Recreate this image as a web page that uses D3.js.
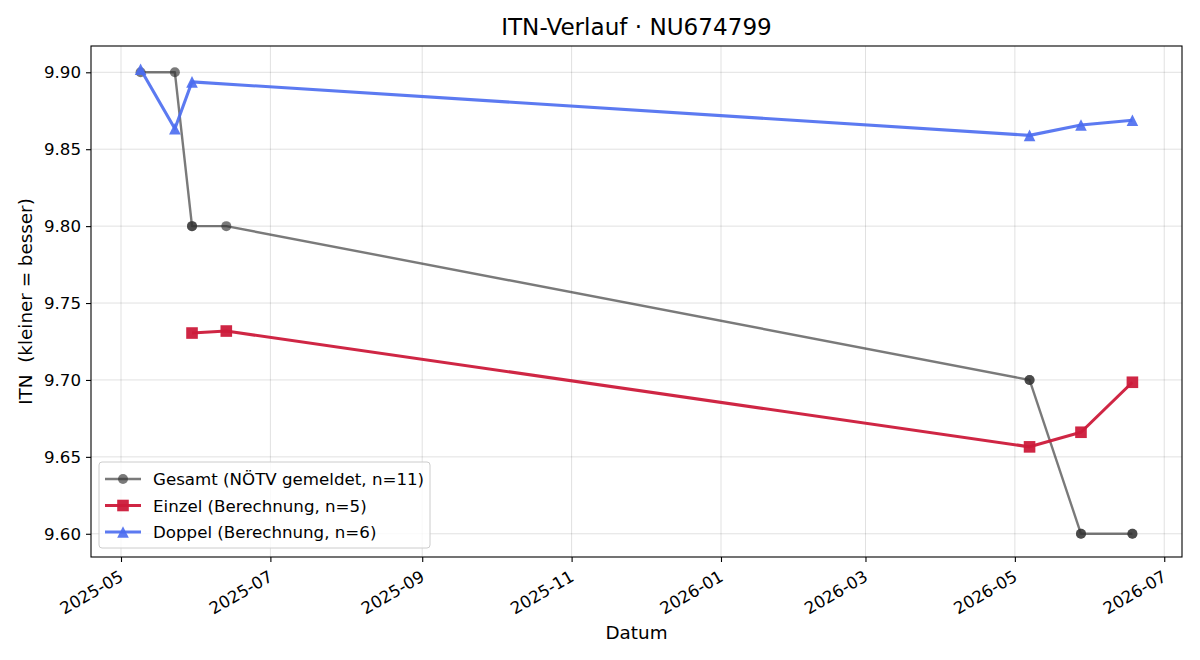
<html>
<head>
<meta charset="utf-8">
<title>ITN-Verlauf</title>
<script src="https://cdn.jsdelivr.net/npm/d3@7"></script>
<style>
  body { margin: 0; background: #fff; }
  text { font-family: "DejaVu Sans", sans-serif; fill: #000; }
</style>
</head>
<body>
<script>

// data
var TITLE = "ITN-Verlauf · NU674799";
var gesamt_dates  = ["2025-05-09", "2025-05-23", "2025-05-30", "2025-05-30", "2025-06-13",
                     "2026-05-07", "2026-05-07", "2026-05-28", "2026-05-28", "2026-06-18", "2026-06-18"];
var gesamt_values = [9.90, 9.90, 9.80, 9.80, 9.80, 9.70, 9.70, 9.60, 9.60, 9.60, 9.60];
var einzel_dates  = ["2025-05-30", "2025-06-13", "2026-05-07", "2026-05-28", "2026-06-18"];
var einzel_values = [9.7305, 9.7318, 9.6565, 9.6660, 9.6985];
var doppel_dates  = ["2025-05-09", "2025-05-23", "2025-05-30", "2026-05-07", "2026-05-28", "2026-06-18"];
var doppel_values = [9.9020, 9.8633, 9.8938, 9.8590, 9.8657, 9.8688];
var y_ticks = [9.60, 9.65, 9.70, 9.75, 9.80, 9.85, 9.90];
var legend_labels = ["Gesamt (NÖTV gemeldet, n=11)", "Einzel (Berechnung, n=5)", "Doppel (Berechnung, n=6)"];

// view
var W = 1200, H = 660;
var M = { left: 91, right: 18, top: 46, bottom: 103 };
var pw = W - M.left - M.right;
var ph = H - M.top - M.bottom;
var TICK_FS = 16.67, LABEL_FS = 18.33, TITLE_FS = 23.1;
var parse = d3.utcParse("%Y-%m-%d");

function to_points(dates, values) {
  return dates.map(function(d, i) { return { date: parse(d), value: values[i] }; });
}
var series = [
  { name: legend_labels[0], pts: to_points(gesamt_dates, gesamt_values), color: "#333333", opacity: 0.65, width: 2.4, marker: "circle", size: 5 },
  { name: legend_labels[1], pts: to_points(einzel_dates, einzel_values), color: "#cc1a3a", opacity: 0.95, width: 3.1, marker: "square", size: 5.8 },
  { name: legend_labels[2], pts: to_points(doppel_dates, doppel_values), color: "#4a6cf0", opacity: 0.9, width: 3.1, marker: "triangle", size: 5.8 }
];

var all = [];
series.forEach(function(s) { all = all.concat(s.pts); });
var xext = d3.extent(all, function(d) { return d.date; });
var yext = d3.extent(all, function(d) { return d.value; });
var xpad = (xext[1] - xext[0]) * 0.05;
var ypad = (yext[1] - yext[0]) * 0.05;

var x = d3.scaleUtc()
  .domain([new Date(+xext[0] - xpad), new Date(+xext[1] + xpad)])
  .range([0, pw]);
var y = d3.scaleLinear()
  .domain([yext[0] - ypad, yext[1] + ypad])
  .range([ph, 0]);

var svg = d3.select("body").append("svg").attr("width", W).attr("height", H);
var g = svg.append("g").attr("transform", "translate(" + M.left + "," + M.top + ")");

var x_ticks = d3.utcMonth.range(x.domain()[0], x.domain()[1]).filter(function(d) { return d.getUTCMonth() % 2 === 0; });

// grid
g.append("g").selectAll("line").data(x_ticks).enter().append("line")
  .attr("x1", function(d) { return x(d); }).attr("x2", function(d) { return x(d); })
  .attr("y1", 0).attr("y2", ph)
  .attr("stroke", "#000").attr("stroke-opacity", 0.12).attr("stroke-width", 1);
g.append("g").selectAll("line").data(y_ticks).enter().append("line")
  .attr("x1", 0).attr("x2", pw)
  .attr("y1", function(d) { return y(d); }).attr("y2", function(d) { return y(d); })
  .attr("stroke", "#000").attr("stroke-opacity", 0.12).attr("stroke-width", 1);

// axes
var xAxis = g.append("g").attr("transform", "translate(0," + ph + ")")
  .call(d3.axisBottom(x).tickValues(x_ticks).tickFormat(d3.utcFormat("%Y-%m")).tickSize(5).tickPadding(4));
xAxis.select(".domain").remove();
xAxis.selectAll("line").attr("stroke", "#000").attr("stroke-width", 1.1);
xAxis.selectAll("text")
  .attr("font-size", TICK_FS).attr("font-family", "DejaVu Sans")
  .attr("text-anchor", "end")
  .attr("dy", null)
  .attr("transform", "translate(3,23) rotate(-30)")
  .attr("y", 0).attr("x", 0);

var yAxis = g.append("g")
  .call(d3.axisLeft(y).tickValues(y_ticks).tickFormat(d3.format(".2f")).tickSize(5).tickPadding(5));
yAxis.select(".domain").remove();
yAxis.selectAll("line").attr("stroke", "#000").attr("stroke-width", 1.1);
yAxis.selectAll("text").attr("font-size", TICK_FS).attr("font-family", "DejaVu Sans");

// lines and markers
var line = d3.line().x(function(d) { return x(d.date); }).y(function(d) { return y(d.value); });

function draw_marker(sel, s) {
  var r = s.size;
  if (s.marker === "circle") {
    sel.append("circle").attr("r", r);
  } else if (s.marker === "square") {
    sel.append("rect").attr("x", -r).attr("y", -r).attr("width", 2 * r).attr("height", 2 * r);
  } else {
    sel.append("path").attr("d", "M0," + (-r) + "L" + r + "," + r + "L" + (-r) + "," + r + "Z");
  }
}

series.forEach(function(s) {
  var sg = g.append("g");
  sg.append("path").datum(s.pts).attr("d", line)
    .attr("fill", "none").attr("stroke", s.color).attr("stroke-opacity", s.opacity)
    .attr("stroke-width", s.width).attr("stroke-linejoin", "round");
  var m = sg.selectAll("g.m").data(s.pts).enter().append("g")
    .attr("transform", function(d) { return "translate(" + x(d.date) + "," + y(d.value) + ")"; })
    .attr("fill", s.color).attr("fill-opacity", s.opacity);
  m.each(function() { draw_marker(d3.select(this), s); });
});

// frame
g.append("rect").attr("width", pw).attr("height", ph)
  .attr("fill", "none").attr("stroke", "#000").attr("stroke-width", 1.1);

// labels
svg.append("text").attr("x", M.left + pw / 2).attr("y", 35)
  .attr("text-anchor", "middle").attr("font-size", TITLE_FS).text(TITLE);
svg.append("text").attr("x", M.left + pw / 2).attr("y", 639)
  .attr("text-anchor", "middle").attr("font-size", LABEL_FS).text("Datum");
svg.append("text").attr("transform", "translate(32," + (M.top + ph / 2) + ") rotate(-90)")
  .attr("text-anchor", "middle").attr("font-size", LABEL_FS).style("white-space", "pre")
  .text("ITN  (kleiner = besser)");

// legend
var lg = svg.append("g").attr("transform", "translate(99,462)");
lg.append("rect").attr("width", 331).attr("height", 86).attr("rx", 3)
  .attr("fill", "#fff").attr("fill-opacity", 0.8).attr("stroke", "#ccc");
series.forEach(function(s, i) {
  var row = lg.append("g").attr("transform", "translate(0," + (17 + i * 26.5) + ")");
  row.append("line").attr("x1", 6).attr("x2", 42).attr("y1", 0).attr("y2", 0)
    .attr("stroke", s.color).attr("stroke-opacity", s.opacity).attr("stroke-width", s.width);
  var mk = row.append("g").attr("transform", "translate(24,0)").attr("fill", s.color).attr("fill-opacity", s.opacity);
  draw_marker(mk, s);
  row.append("text").attr("x", 54).attr("y", 6).attr("font-size", TICK_FS).text(s.name);
});

</script>
</body>
</html>
